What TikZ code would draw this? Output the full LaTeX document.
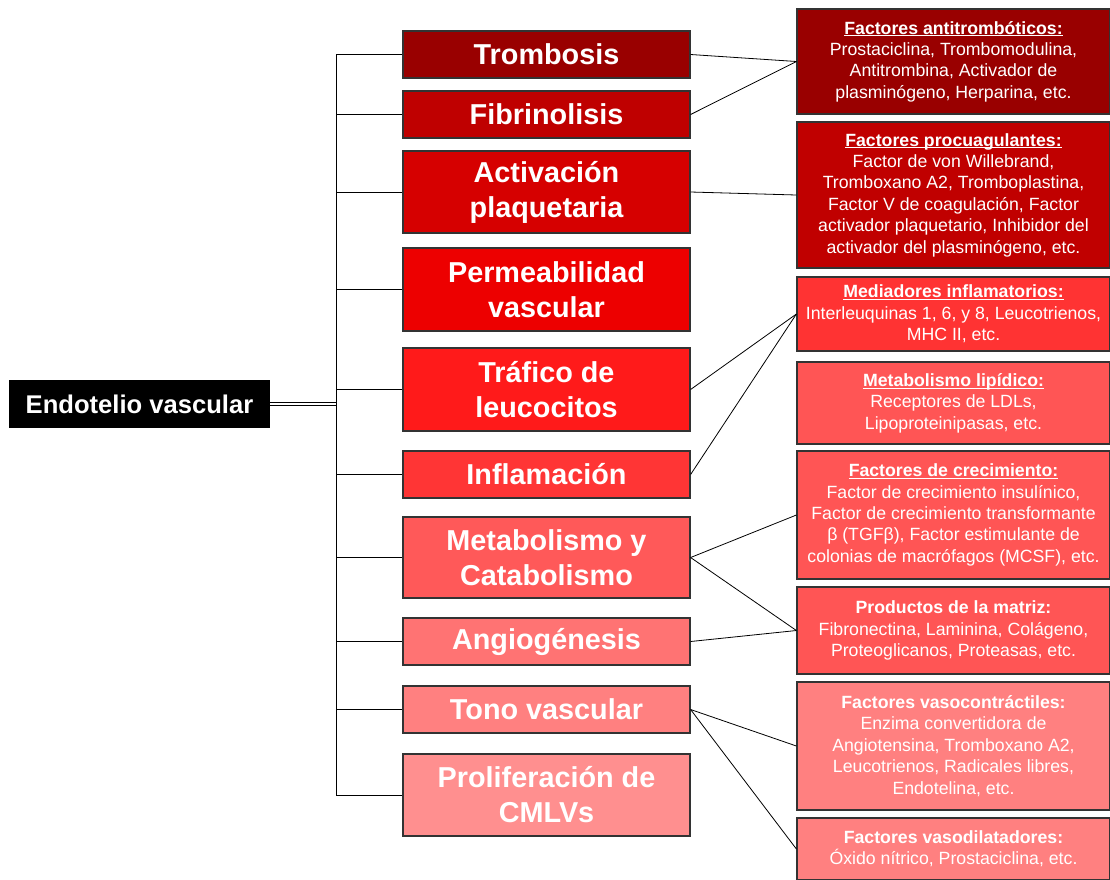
\documentclass[tikz,border=0pt]{standalone}
\usepackage{fontspec}
\setmainfont{Liberation Sans}
\definecolor{rojoA}{HTML}{990000}
\definecolor{rojoB}{HTML}{BF0000}
\definecolor{rojoC}{HTML}{D60000}
\definecolor{rojoD}{HTML}{ED0000}
\definecolor{rojoE}{HTML}{FF1A1A}
\definecolor{rojoF}{HTML}{FF3535}
\definecolor{rojoG}{HTML}{FF5959}
\definecolor{rojoH}{HTML}{FF7373}
\definecolor{rojoI}{HTML}{FF8080}
\definecolor{rojoJ}{HTML}{FF8F8F}
\definecolor{rojoK}{HTML}{C00000}
\definecolor{rojoL}{HTML}{FF3333}
\definecolor{rojoM}{HTML}{FF5555}
% titulo subrayado, raya cerca de la linea base
\newcommand\titulo[1]{\setbox0\hbox{\textbf{#1}}\rlap{\rule[-2.4pt]{\wd0}{1.1pt}}\box0}
\begin{document}
\begin{tikzpicture}
    [x=1pt,y=-1pt,
     root/.style={fill=black,text=white,font=\fontsize{25.6}{30}\selectfont\bfseries,
       minimum width=261pt,minimum height=48pt,inner sep=0pt},
     area/.style={draw=black!80,line width=1.2pt,text=white,align=center,
       font=\fontsize{28.8}{35}\selectfont\bfseries,minimum width=287pt,inner sep=0pt},
     info/.style={draw=black!80,line width=1.2pt,text=white,align=center,
       font=\fontsize{17.7}{21.4}\selectfont,minimum width=313pt,inner sep=0pt},
     link/.style={line width=0.8pt}]
    \useasboundingbox (0,0) rectangle (1110,879);
    \node[root] (endo) at (139.5,404) {Endotelio vascular};
    \coordinate (bus) at (336,404);
    % funciones
    \node[area,fill=rojoA,minimum height=47pt] (tromb) at (546.5,54.5) {Trombosis};
    \node[area,fill=rojoB,minimum height=47pt] (fibr) at (546.5,114.5) {Fibrinolisis};
    \node[area,fill=rojoC,minimum height=82pt] (activ) at (546.5,192) {Activación\\plaquetaria};
    \node[area,fill=rojoD,minimum height=83pt] (perm) at (546.5,289.5) {Permeabilidad\\vascular};
    \node[area,fill=rojoE,minimum height=83pt] (trafico) at (546.5,389.5) {Tráfico de\\leucocitos};
    \node[area,fill=rojoF,minimum height=47pt] (infl) at (546.5,474.5) {Inflamación};
    \node[area,fill=rojoG,minimum height=81pt] (metab) at (546.5,557.5) {Metabolismo y\\Catabolismo};
    \node[area,fill=rojoH,minimum height=47pt] (angio) at (546.5,641.5) {Angiogénesis};
    \node[area,fill=rojoI,minimum height=47pt] (tono) at (546.5,709.5) {Tono vascular};
    \node[area,fill=rojoJ,minimum height=82pt] (prolif) at (546.5,795) {Proliferación de\\CMLVs};
    % factores
    \node[info,fill=rojoA,minimum height=105pt] (antitr) at (953.5,61.5)
      {\titulo{Factores antitrombóticos:}\\Prostaciclina, Trombomodulina,\\Antitrombina, Activador de\\plasminógeno, Herparina, etc.};
    \node[info,fill=rojoK,minimum height=146pt] (procoag) at (953.5,195)
      {\titulo{Factores procuagulantes:}\\Factor de von Willebrand,\\Tromboxano A2, Tromboplastina,\\Factor V de coagulación, Factor\\activador plaquetario, Inhibidor del\\activador del plasminógeno, etc.};
    \node[info,fill=rojoL,minimum height=74pt] (mediad) at (953.5,314)
      {\titulo{Mediadores inflamatorios:}\\Interleuquinas 1, 6, y 8, Leucotrienos,\\MHC II, etc.};
    \node[info,fill=rojoM,minimum height=82pt] (lipid) at (953.5,403)
      {\titulo{Metabolismo lipídico:}\\Receptores de LDLs,\\Lipoproteinipasas, etc.};
    \node[info,fill=rojoM,minimum height=128pt] (crec) at (953.5,515)
      {\titulo{Factores de crecimiento:}\\Factor de crecimiento insulínico,\\Factor de crecimiento transformante\\β (TGFβ), Factor estimulante de\\colonias de macrófagos (MCSF), etc.};
    \node[info,fill=rojoM,minimum height=87pt] (matriz) at (953.5,630.5)
      {\textbf{Productos de la matriz:}\\Fibronectina, Laminina, Colágeno,\\Proteoglicanos, Proteasas, etc.};
    \node[info,fill=rojoI,minimum height=128pt] (vasoc) at (953.5,746)
      {\textbf{Factores vasocontráctiles:}\\Enzima convertidora de\\Angiotensina, Tromboxano A2,\\Leucotrienos, Radicales libres,\\Endotelina, etc.};
    \node[info,fill=rojoI,minimum height=62pt] (vasod) at (953.5,849)
      {\textbf{Factores vasodilatadores:}\\Óxido nítrico, Prostaciclina, etc.};
    % ramas
    \draw[double,line width=0.8pt,double distance=2pt] (endo.east) -- (bus);
    \draw[link] (tromb.west -| bus) -- (prolif.west -| bus);
    \foreach \n in {tromb,fibr,activ,perm,trafico,infl,metab,angio,tono,prolif}
      \draw[link] (\n.west -| bus) -- (\n.west);
    \draw[link] (tromb.east) -- (antitr.west);
    \draw[link] (fibr.east) -- (antitr.west);
    \draw[link] (activ.east) -- (procoag.west);
    \draw[link] (trafico.east) -- (mediad.west);
    \draw[link] (infl.east) -- (mediad.west);
    \draw[link] (metab.east) -- (crec.west);
    \draw[link] (metab.east) -- (matriz.west);
    \draw[link] (angio.east) -- (matriz.west);
    \draw[link] (tono.east) -- (vasoc.west);
    \draw[link] (tono.east) -- (vasod.west);
\end{tikzpicture}
\end{document}
